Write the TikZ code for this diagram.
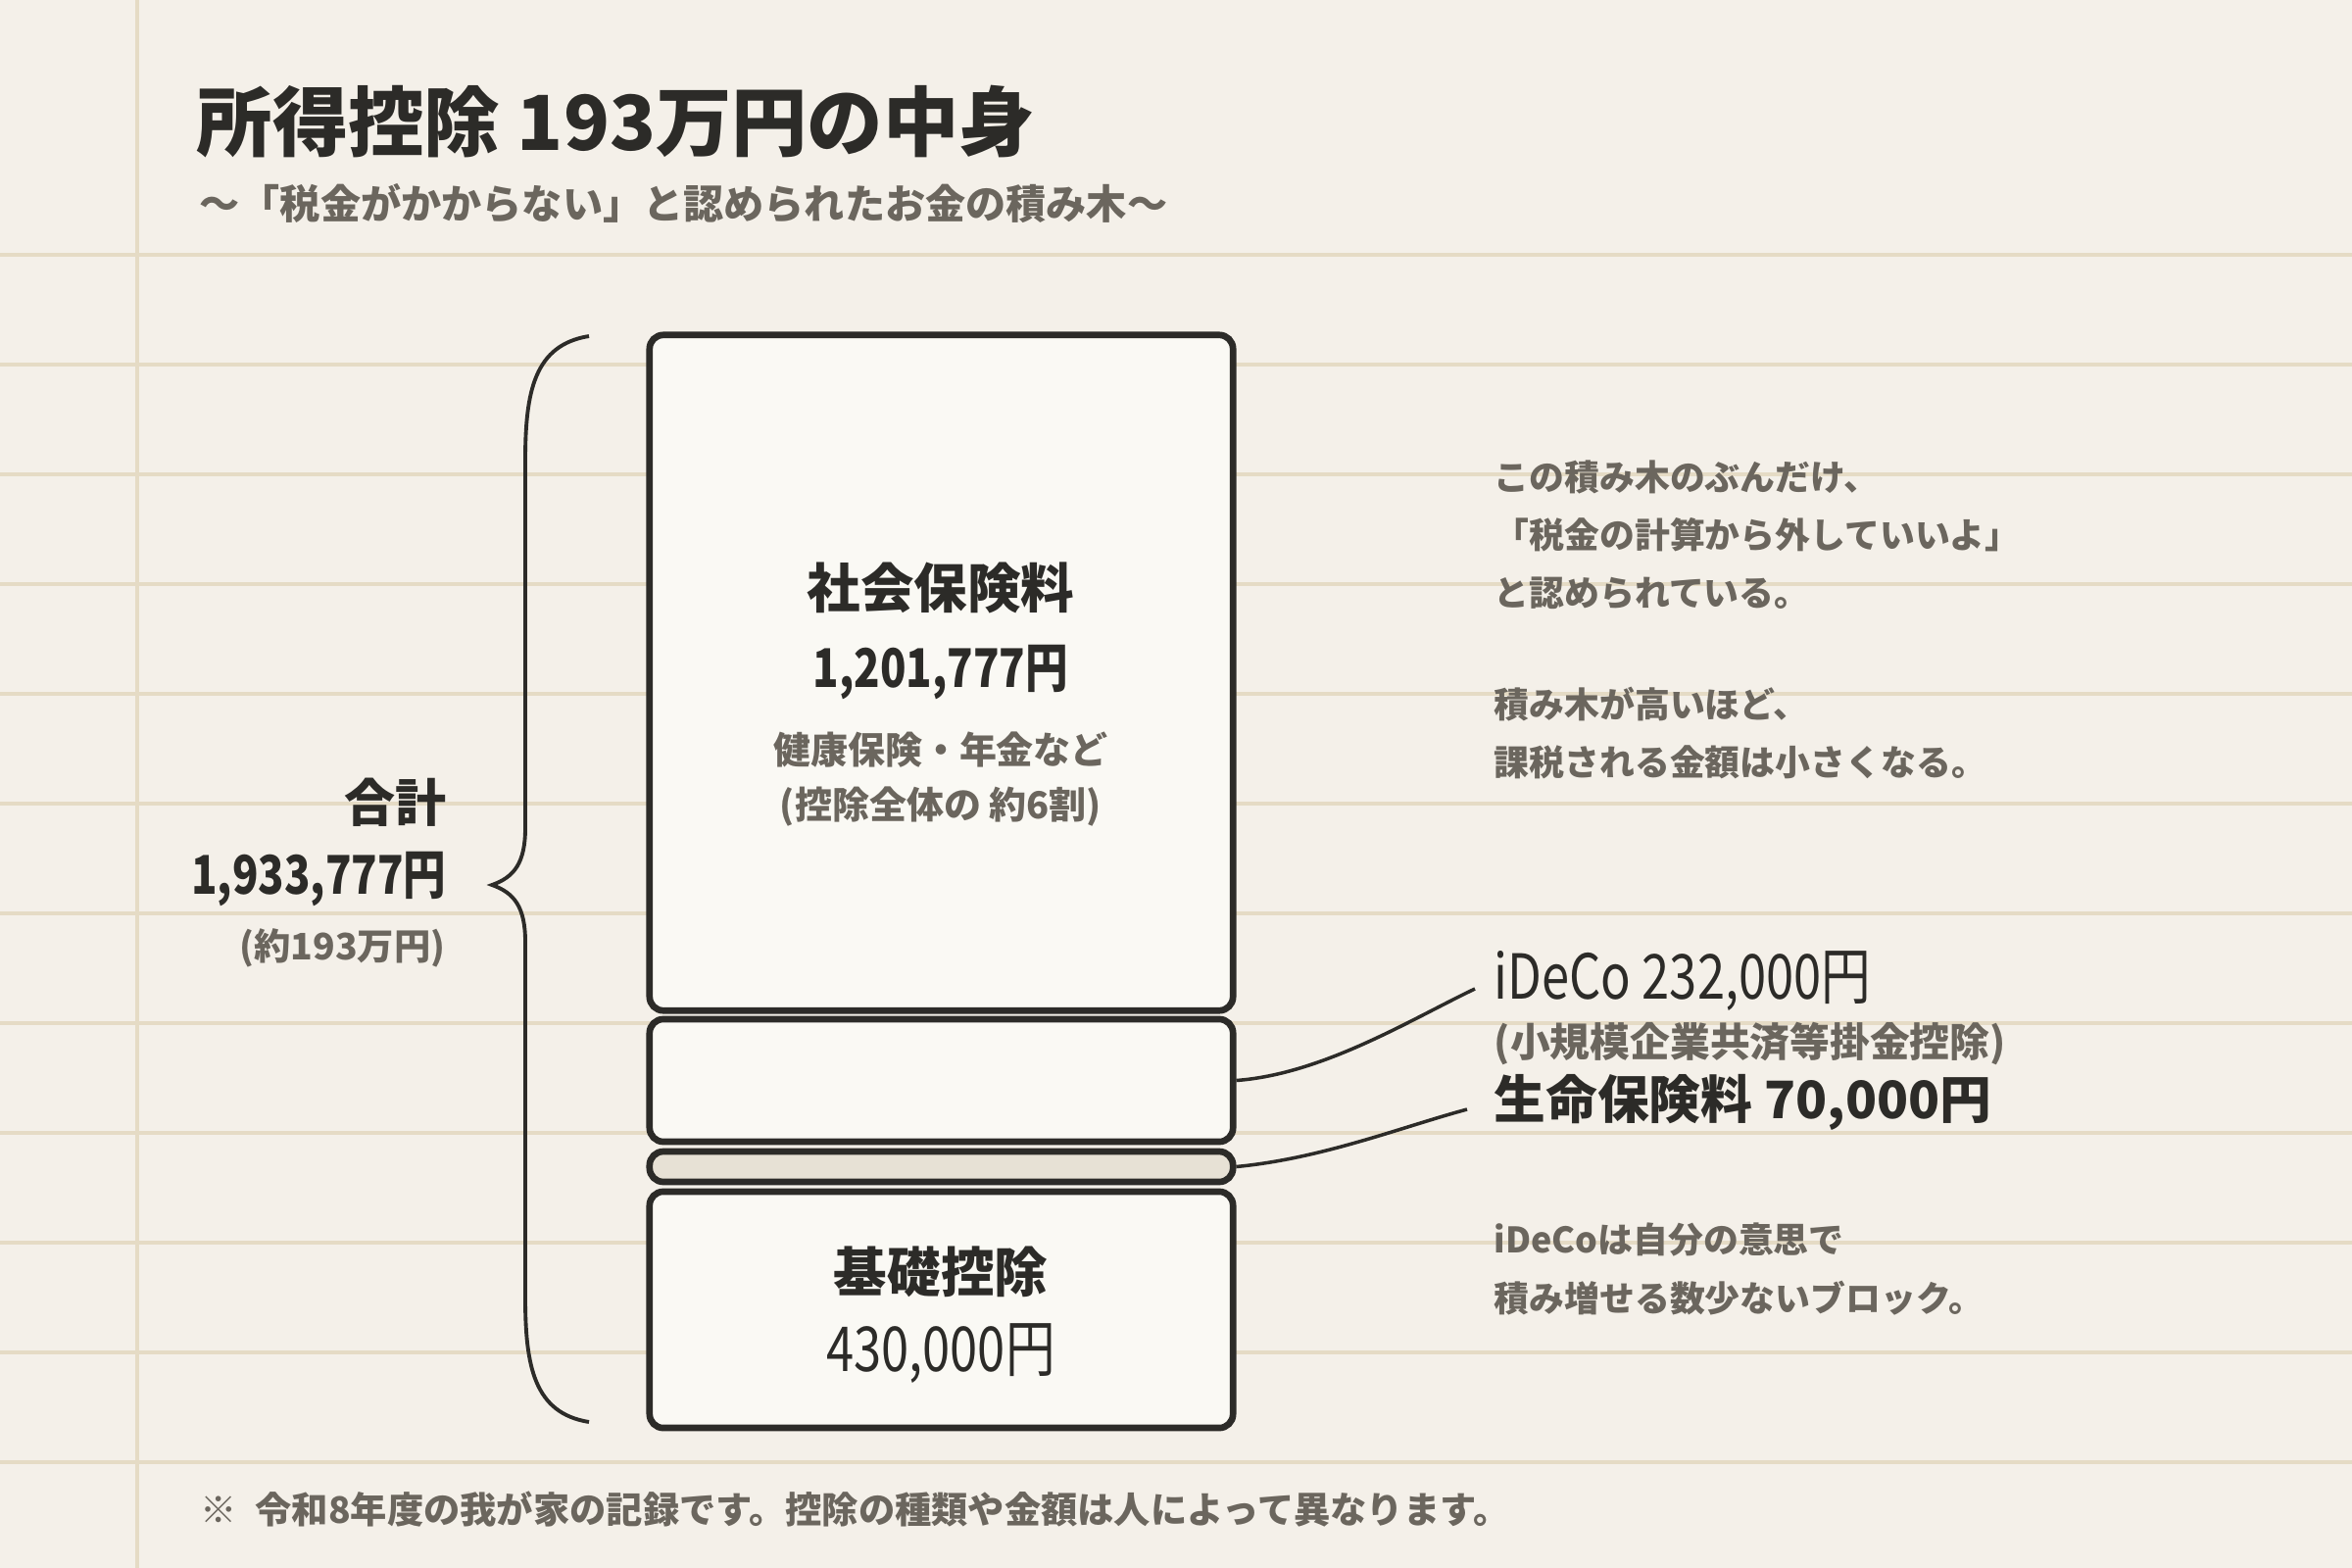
\documentclass[tikz,border=0pt]{standalone}
\usepackage{fontspec}
\setmainfont{Noto Sans CJK JP}
\newfontfamily\numfont[FakeStretch=0.8]{Noto Sans CJK JP}

\definecolor{paper}{HTML}{F4F0E9}
\definecolor{rulecol}{HTML}{E5DBC5}
\definecolor{ink}{HTML}{2C2B28}
\definecolor{greyink}{HTML}{6B665E}
\definecolor{blockfill}{HTML}{FAF9F4}
\definecolor{lifefill}{HTML}{E7E1D5}

\tikzset{
    ruleline/.style={draw=rulecol, line width=1pt},
    block/.style={draw=ink, fill=blockfill, line width=1.9pt, rounded corners=4pt, minimum width=5.95cm, inner sep=0pt},
    bracepath/.style={draw=ink, line width=1.1pt},
    leaderline/.style={draw=ink, line width=1pt},
    headtext/.style={inner sep=0pt, text=ink, font=\bfseries\fontsize{15.5}{18}\selectfont},
    sumtext/.style={inner sep=0pt, text=ink, font=\numfont\bfseries\fontsize{15.5}{18}\selectfont},
    greytext/.style={inner sep=0pt, text=greyink, font=\bfseries\fontsize{10.8}{13}\selectfont},
    notetext/.style={inner sep=0pt, anchor=west, text=greyink, font=\bfseries\fontsize{10.2}{12}\selectfont}
}

\begin{document}
\begin{tikzpicture}[x=0.01cm, y=-0.01cm]

    \useasboundingbox (0, 0) rectangle (2400, 1600);
    \fill [paper] (0, 0) rectangle (2400, 1600);

    % notebook lines
    \foreach \y in {260, 372, ..., 1492}
        \draw [ruleline] (0, \y) -- (2400, \y);
    \draw [ruleline] (140, 0) -- (140, 1600);

    \node (title) [anchor=west, inner sep=0pt, text=ink, font=\bfseries\fontsize{22}{26}\selectfont] at (200, 124) {所得控除 193万円の中身};
    \node (subtitle) [anchor=west, greytext, font=\bfseries\fontsize{11.7}{14}\selectfont] at (203, 208) {〜「税金がかからない」と認められたお金の積み木〜};

    % the stack
    \node (social) [block, minimum height=6.89cm] at (960.5, 686.5) {};
    \node (ideco) [block, minimum height=1.25cm] at (960.5, 1102.5) {};
    \node (life) [block, fill=lifefill, minimum height=0.31cm] at (960.5, 1190.5) {};
    \node (basic) [block, minimum height=2.41cm] at (960.5, 1336.5) {};

    \node (socialname) [headtext] at (960, 600) {社会保険料};
    \node (socialsum) [sumtext] at (960, 686) {1,201,777円};
    \node (socialnote) [greytext] at (960, 765) {健康保険・年金など};
    \node (socialshare) [greytext] at (960, 823) {(控除全体の 約6割)};

    \node (basicname) [headtext] at (960, 1298) {基礎控除};
    \node (basicsum) [sumtext, font=\numfont\fontsize{18}{20}\selectfont] at (960, 1381) {430,000円};

    % brace and total
    \coordinate (bt) at (601, 343);
    \coordinate (bm) at (502, 903);
    \coordinate (bb) at (601, 1451);
    \draw [bracepath] (bt) .. controls (545, 352) and (536, 400) .. (536, 470)
        -- (536, 845) .. controls (536, 880) and (525, 895) .. (bm)
        .. controls (525, 911) and (536, 926) .. (536, 961)
        -- (536, 1324) .. controls (536, 1394) and (545, 1442) .. (bb);

    \node (totalname) [headtext, anchor=east, font=\bfseries\fontsize{14.8}{17}\selectfont] at (456, 819) {合計};
    \node (totalsum) [sumtext, anchor=east] at (456, 897) {1,933,777円};
    \node (totalnote) [greytext, anchor=east, font=\bfseries\fontsize{10.6}{13}\selectfont] at (455, 967) {(約193万円)};

    % labels on the right
    \node (idecolabel) [anchor=west, inner sep=0pt, text=ink, font=\numfont\fontsize{18}{20}\selectfont] at (1524, 1001) {iDeCo 232,000円};
    \node (idecosub) [greytext, anchor=west, font=\bfseries\fontsize{11.6}{14}\selectfont] at (1524, 1065) {(小規模企業共済等掛金控除)};
    \node (lifelabel) [headtext, anchor=west, font=\bfseries\fontsize{15}{18}\selectfont] at (1524, 1125) {生命保険料 70,000円};

    \coordinate (idecotip) at (1505, 1009);
    \coordinate (lifetip) at (1497, 1132);
    \draw [leaderline] (ideco.east) .. controls (1350, 1096) and (1440, 1040) .. (idecotip);
    \draw [leaderline] (life.east) .. controls (1350, 1182) and (1430, 1150) .. (lifetip);

    \node (note1) [notetext] at (1524, 487) {この積み木のぶんだけ、};
    \node (note2) [notetext] at (1524, 546) {「税金の計算から外していいよ」};
    \node (note3) [notetext] at (1524, 605) {と認められている。};
    \node (note4) [notetext] at (1524, 719) {積み木が高いほど、};
    \node (note5) [notetext] at (1524, 778) {課税される金額は小さくなる。};
    \node (note6) [notetext] at (1524, 1265) {iDeCoは自分の意思で};
    \node (note7) [notetext] at (1524, 1325) {積み増せる数少ないブロック。};

    \node (footnote) [notetext, font=\bfseries\fontsize{10.6}{12}\selectfont] at (204, 1540) {※\enspace 令和8年度の我が家の記録です。控除の種類や金額は人によって異なります。};

\end{tikzpicture}
\end{document}
